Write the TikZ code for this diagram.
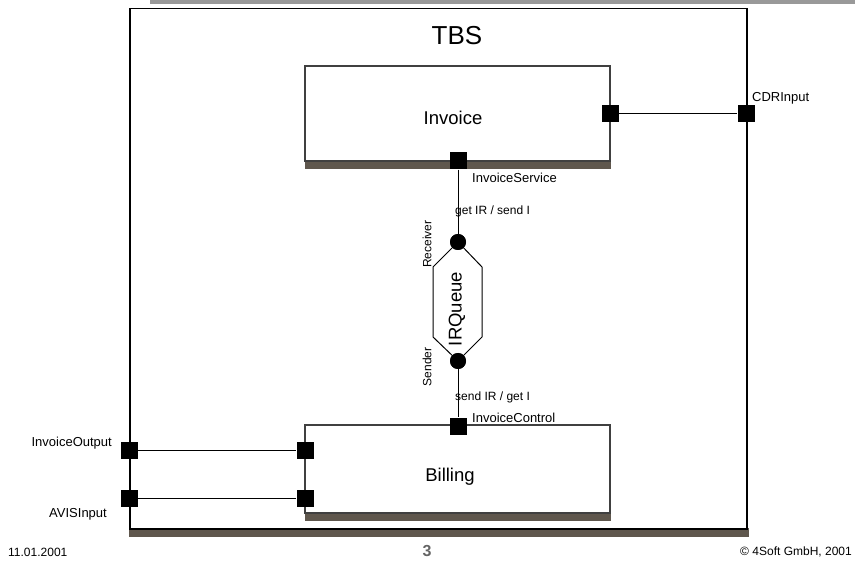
\documentclass[tikz,border=0pt]{standalone}
\usepackage{fontspec}
\setmainfont{Liberation Sans}
\definecolor{shadowc}{RGB}{95,87,77}
\definecolor{topbar}{RGB}{153,153,153}
\definecolor{pagenum}{RGB}{100,100,100}
\begin{document}
\begin{tikzpicture}[x=1pt,y=-1pt,
  port/.style={rectangle,fill=black,minimum size=17pt,inner sep=0pt},
  ball/.style={circle,fill=black,minimum size=16pt,inner sep=0pt},
  comp/.style={rectangle,draw=black!75,line width=1.2pt,fill=white,inner sep=0pt},
  lbl/.style={font=\fontsize{13}{15}\selectfont,inner sep=0pt},
  slbl/.style={font=\fontsize{12}{14}\selectfont,inner sep=0pt},
  big/.style={font=\fontsize{18.5}{21}\selectfont,inner sep=0pt},
  wire/.style={line width=1pt}]
\useasboundingbox (0,0) rectangle (855,564);
% top bar
\fill[topbar] (150,0) rectangle (855,4);
% outer component TBS
\fill[shadowc] (129,528) rectangle (749,537);
\node[draw=black,line width=1.5pt,fill=white,minimum width=617pt,minimum height=520pt,inner sep=0pt,anchor=north west] (tbs) at (129,8) {};
\node[font=\fontsize{26}{30}\selectfont,inner sep=0pt] (tbslabel) at (457,36) {TBS};
% Invoice
\fill[shadowc] (305,161) rectangle (611,169);
\node[comp,minimum width=305pt,minimum height=95pt] (invoice) at (457.5,113.5) {};
\node[big] (invoicelabel) at (453,118) {Invoice};
% Billing
\fill[shadowc] (305,513) rectangle (611,521);
\node[comp,minimum width=305pt,minimum height=88pt] (billing) at (457.5,469) {};
\node[big] (billinglabel) at (450,477) {Billing};
% IRQueue
\coordinate (hul) at (433,267);
\coordinate (hll) at (433,337);
\coordinate (hlr) at (482,337);
\coordinate (hur) at (482,267);
\node[ball] (recv) at (458,242) {};
\node[ball] (send) at (458,361) {};
\draw[line width=1pt] (recv.center) -- (hul) -- (hll) -- (send.center) -- (hlr) -- (hur) -- cycle;
\node[ball] at (recv.center) {};
\node[ball] at (send.center) {};
\node[big,rotate=90] (irq) at (457,309) {IRQueue};
\node[slbl,rotate=90] (recvlabel) at (427,244) {Receiver};
\node[slbl,rotate=90] (sendlabel) at (427,367) {Sender};
% ports
\node[port] (invR) at (610,114) {};
\node[port] (cdr) at (746,114) {};
\node[port] (isvc) at (458,161) {};
\node[port] (ictl) at (458,426) {};
\node[port] (outO) at (129,450) {};
\node[port] (bilO) at (305,450) {};
\node[port] (avisO) at (129,498) {};
\node[port] (bilA) at (305,498) {};
% wires
\draw[wire] (invR) -- (cdr);
\draw[wire] (isvc) -- (recv);
\draw[wire] (send) -- (ictl);
\draw[wire] (outO) -- (bilO);
\draw[wire] (avisO) -- (bilA);
% labels
\node[lbl,anchor=west] (cdrlabel) at (752,98) {CDRInput};
\node[lbl,anchor=west] (isvclabel) at (472,178) {InvoiceService};
\node[slbl,anchor=west] (getlabel) at (455,211) {get IR / send I};
\node[slbl,anchor=west] (sendirlabel) at (455,397) {send IR / get I};
\node[lbl,anchor=west] (ictllabel) at (472,418) {InvoiceControl};
\node[lbl,anchor=east] (outlabel) at (112,443) {InvoiceOutput};
\node[lbl,anchor=east] (avislabel) at (107,514) {AVISInput};
% footer
\node[slbl,anchor=west] (date) at (8,552) {11.01.2001};
\node[font=\fontsize{16}{18}\selectfont\bfseries,text=pagenum,inner sep=0pt] (pnum) at (427,551) {3};
\node[slbl,anchor=east] (copy) at (852,552) {© 4Soft GmbH, 2001};
\end{tikzpicture}
\end{document}
